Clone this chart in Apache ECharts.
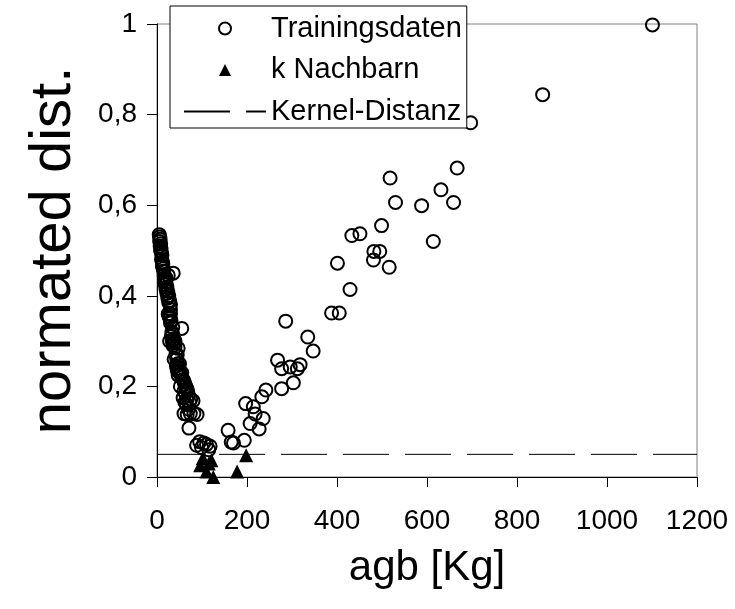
<!DOCTYPE html>
<html>
<head>
<meta charset="utf-8">
<script src="https://cdn.jsdelivr.net/npm/echarts@6/dist/echarts.min.js"></script>
<style>html,body{margin:0;padding:0;background:#fff}#c{width:735px;height:609px}</style>
</head>
<body>
<div id="c"></div>
<script>
// Training data (agb [Kg], normated distance)
const trainX = [5,6,7,6,8,7,9,8,10,11,10,12,13,12,14,15,36,16,18,25,17,20,18,22,20,24,22,26,24,28,26,30,25,27,29,31,28,30,55,33,35,32,37,34,38,36,40,47,42,44,46,43,48,45,50,52,47,55,58,60,62,64,66,68,63,70,58,66,75,62,72,80,60,67,74,82,89,71,88,95,99,104,110,118,115,
20,25,30,35,40,45,50,55,60,65,70,30,28,38,52,
158,165,170,194,197,214,218,236,207,227,233,242,268,277,296,312,318,303,277,286,335,347,388,405,401,429,433,451,482,495,481,499,516,518,530,588,614,631,659,667,697,857,1101];
const trainY = [0.535,0.53,0.525,0.52,0.515,0.51,0.505,0.50,0.495,0.49,0.48,0.475,0.47,0.465,0.46,0.455,0.45,0.445,0.44,0.445,0.435,0.43,0.425,0.42,0.415,0.41,0.405,0.40,0.395,0.39,0.385,0.38,0.36,0.355,0.35,0.345,0.352,0.36,0.328,0.32,0.315,0.31,0.305,0.30,0.295,0.29,0.287,0.284,0.27,0.26,0.25,0.245,0.24,0.235,0.232,0.228,0.225,0.22,0.215,0.21,0.205,0.20,0.195,0.19,0.185,0.18,0.175,0.17,0.172,0.165,0.165,0.168,0.14,0.138,0.14,0.14,0.138,0.108,0.07,0.078,0.065,0.075,0.072,0.068,0.06,
0.44,0.40,0.37,0.33,0.30,0.27,0.25,0.23,0.19,0.16,0.15,0.34,0.30,0.26,0.20,
0.103,0.077,0.075,0.081,0.162,0.155,0.139,0.129,0.118,0.106,0.177,0.192,0.258,0.239,0.243,0.239,0.248,0.208,0.195,0.344,0.309,0.278,0.362,0.362,0.472,0.414,0.533,0.537,0.498,0.498,0.479,0.555,0.463,0.66,0.606,0.599,0.52,0.634,0.606,0.682,0.782,0.844,0.998];
// k nearest neighbours
const nbX = [102,121,96,110,115,125,178,198];
const nbY = [0.042,0.037,0.026,0.012,0.03,0.0,0.012,0.048];
// Kernel distance threshold
const kernelX = [0, 1200];
const kernelY = [0.05, 0.05];
const xTicks = [0,200,400,600,800,1000,1200];
const yTicks = [0,0.2,0.4,0.6,0.8,1];

const font = 'Liberation Sans, Arial, sans-serif';
const zip = (a,b) => a.map((v,i)=>[v,b[i]]);
const chart = echarts.init(document.getElementById('c'), null, {renderer:'canvas'});
chart.setOption({
  backgroundColor:'#fff',
  animation:false,
  grid:{left:157,right:38,top:24,bottom:132,show:true,borderColor:'#808080',borderWidth:1},
  legend:{
    left:170, top:6, orient:'vertical',
    backgroundColor:'#fff', borderColor:'#000', borderWidth:1, borderRadius:0,
    padding:[8,5,2,13], itemWidth:82, itemHeight:12, itemGap:12.5,
    symbolKeepAspect:true,
    textStyle:{fontFamily:font,fontSize:29,color:'#000',lineHeight:28},
    data:[
      {name:'Trainingsdaten'},
      {name:'k Nachbarn', icon:'path://M0,10L5,0L10,10Z', itemStyle:{color:'#000',opacity:1}},
      {name:'Kernel-Distanz', itemStyle:{color:'rgba(0,0,0,0)',borderColor:'rgba(0,0,0,0)',borderWidth:0}}
    ]
  },
  xAxis:{
    type:'value', min:xTicks[0], max:xTicks[xTicks.length-1], interval:200,
    name:'agb [Kg]', nameLocation:'middle', nameGap:70,
    nameTextStyle:{fontFamily:font,fontSize:42,color:'#000'},
    axisLine:{lineStyle:{color:'#000',width:1}},
    axisTick:{show:true,length:10,lineStyle:{color:'#000'}},
    axisLabel:{fontFamily:font,fontSize:28,color:'#000',margin:30,formatter:v=>String(v)},
    splitLine:{show:false}
  },
  yAxis:{
    type:'value', min:yTicks[0], max:yTicks[yTicks.length-1], interval:0.2,
    name:'normated dist.', nameLocation:'middle', nameGap:74,
    nameTextStyle:{fontFamily:font,fontSize:58,color:'#000'},
    axisLine:{show:true,lineStyle:{color:'#000',width:1}},
    axisTick:{show:true,length:10,lineStyle:{color:'#000'}},
    axisLabel:{fontFamily:font,fontSize:28,color:'#000',margin:20,
      formatter:v=>String(+v.toFixed(1)).replace('.',',')},
    splitLine:{show:false}
  },
  series:[
    {name:'Trainingsdaten', type:'scatter', symbol:'circle', symbolSize:13,
     itemStyle:{color:'rgba(0,0,0,0)',borderColor:'#000',borderWidth:2,opacity:1},
     data:zip(trainX,trainY), z:2},
    {name:'k Nachbarn', type:'scatter', symbol:'triangle', symbolSize:14,
     itemStyle:{color:'#000',opacity:1}, data:zip(nbX,nbY), z:3},
    {name:'Kernel-Distanz', type:'line', symbol:'none',
     itemStyle:{color:'#000'},
     lineStyle:{color:'#000',width:1,type:[46,16]},
     data:zip(kernelX,kernelY), z:1}
  ]
});
</script>
</body>
</html>
